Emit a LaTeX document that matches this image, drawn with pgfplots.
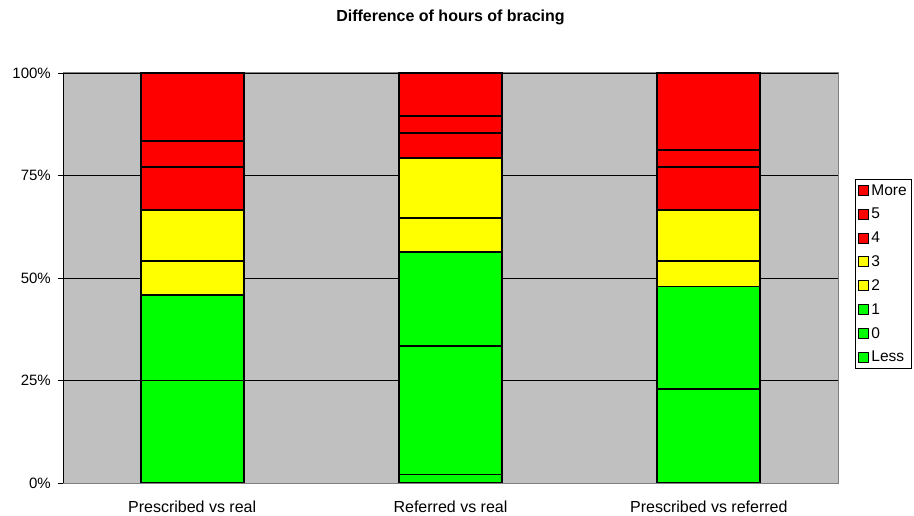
\documentclass[border=0pt]{standalone}
\usepackage{pgfplots}
\pgfplotsset{compat=1.18}
\usepackage{fontspec}
\setmainfont{Liberation Sans}
\definecolor{bggray}{HTML}{C0C0C0}
\definecolor{bgreen}{HTML}{00FF00}
\definecolor{byellow}{HTML}{FFFF00}
\definecolor{bred}{HTML}{FF0000}
\pgfplotstableread{
x Less Zero One Two Three Four Five More
0 0    25    20.83 8.33 12.50 10.42 6.25 16.67
1 2.08 31.25 22.92 8.33 14.58 6.25 4.17 10.42
2 0    22.92 25.00 6.25 12.50 10.42 4.17 18.75
}\datatable
\pgfplotsset{
  common/.style={
    at={(63bp,33bp)}, anchor=south west,
    width=775bp, height=410bp, scale only axis,
    xmin=-0.5, xmax=2.5, ymin=0, ymax=100,
    ybar stacked, bar width=103bp,
  },
  outl/.style={draw=black, fill=none, line width=1.9bp},
}
\begin{document}
\begin{tikzpicture}
\useasboundingbox (0,0) rectangle (914bp,516bp);
\begin{axis}[
  common,
  axis background/.style={fill=bggray},
  axis line style={draw=gray, line width=1bp},
  xtick={0,1,2},
  xticklabels={Prescribed vs real, Referred vs real, Prescribed vs referred},
  x tick style={draw=none},
  extra x ticks={0.5,1.5},
  extra x tick labels={},
  extra x tick style={tick style={draw=gray, line width=0.8bp}, major tick length=5bp, tick align=outside, grid=none},
  xtick pos=bottom, ytick pos=left,
  ytick={0,25,50,75,100},
  yticklabel={\pgfmathprintnumber{\tick}\%},
  y tick style={draw=black, line width=0.8bp},
  tick align=outside, major tick length=5bp,
  ymajorgrids, grid style={black, line width=0.8bp},
  /pgf/number format/assume math mode=true,
  yticklabel style={font=\fontsize{15bp}{18bp}\selectfont, inner sep=0pt, xshift=-7bp},
  xticklabel style={font=\fontsize{16bp}{19bp}\selectfont, inner sep=0pt, yshift=-13bp},
  title={\textbf{Difference of hours of bracing}},
  title style={font=\fontsize{16bp}{19bp}\selectfont, at={(0.5,1)}, anchor=base, yshift=46bp},
  every axis plot/.append style={draw=black, line width=1.5bp},
  reverse legend,
  legend cell align=left,
  legend style={at={(1.022,0.51)}, anchor=west, draw=black, line width=0.8bp,
    font=\fontsize{15.5bp}{18bp}\selectfont, row sep=7.6bp, inner xsep=3bp, inner ysep=3bp},
  legend image code/.code={\draw[#1, line width=1bp] (0bp,-5bp) rectangle (10bp,5bp);},
]
\addplot[fill=bgreen] table[x=x,y=Less]{\datatable};
\addplot[fill=bgreen] table[x=x,y=Zero]{\datatable};
\addplot[fill=bgreen] table[x=x,y=One]{\datatable};
\addplot[fill=byellow] table[x=x,y=Two]{\datatable};
\addplot[fill=byellow] table[x=x,y=Three]{\datatable};
\addplot[fill=bred] table[x=x,y=Four]{\datatable};
\addplot[fill=bred] table[x=x,y=Five]{\datatable};
\addplot[fill=bred] table[x=x,y=More]{\datatable};
\legend{Less,0,1,2,3,4,5,More}
\draw[black, line width=1bp] (rel axis cs:0,1) -- (rel axis cs:0,0) -- (rel axis cs:1,0);
\end{axis}
\begin{axis}[common, hide axis]
\addplot[outl] table[x=x,y=Less]{\datatable};
\addplot[outl] table[x=x,y=Zero]{\datatable};
\addplot[outl] table[x=x,y=One]{\datatable};
\addplot[outl] table[x=x,y=Two]{\datatable};
\addplot[outl] table[x=x,y=Three]{\datatable};
\addplot[outl] table[x=x,y=Four]{\datatable};
\addplot[outl] table[x=x,y=Five]{\datatable};
\addplot[outl] table[x=x,y=More]{\datatable};
\end{axis}
\end{tikzpicture}
\end{document}
